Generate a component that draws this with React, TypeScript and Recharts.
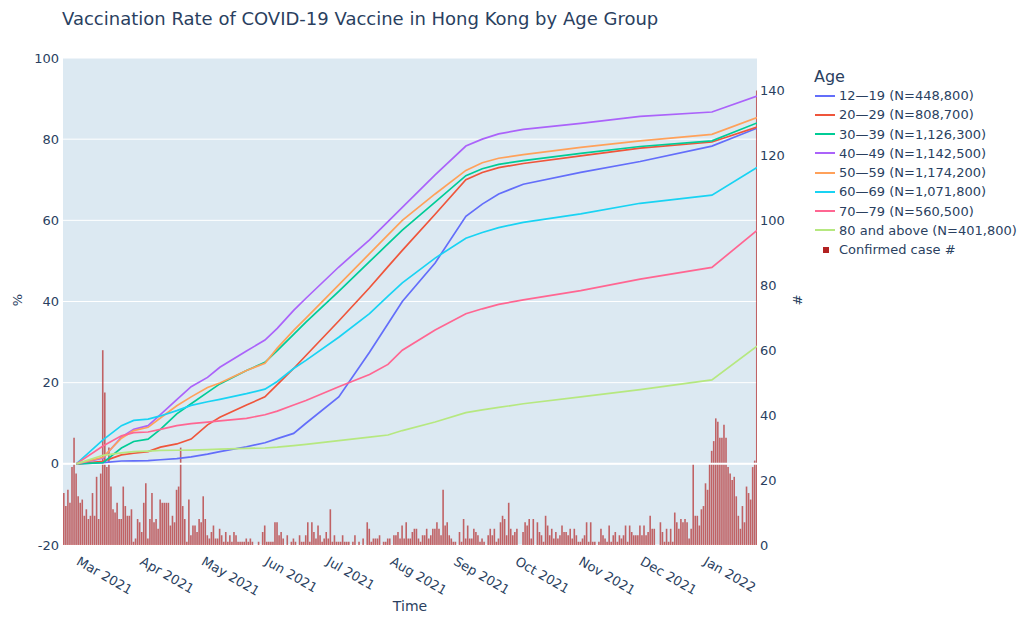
import { ComposedChart, Line, Bar, XAxis, YAxis, CartesianGrid, ReferenceLine } from "recharts";

const FONT = "Verdana, 'DejaVu Sans', sans-serif";
const TEXT = "#2a3f5f";

// day 0 = 2021-02-20, one bar per day
const casesFebToMay = [
  16, 12, 17, 13, 24, 33, 22, 15, 13, 14,
  9, 11, 8, 9, 16, 9, 21, 8, 22, 60,
  47, 24, 30, 18, 11, 10, 13, 8, 8, 18,
  12, 9, 9, 11, 1, 2, 8, 7, 4, 13,
  19, 2, 8, 16, 7, 8, 5, 14, 13, 13,
  13, 13, 6, 9, 7, 17, 18, 30, 12, 8,
  1, 14, 3, 6, 6, 4, 8, 7, 15, 8,
  3, 2, 4, 6, 2, 2, 5, 3, 1, 4,
  1, 3, 1, 4, 3, 1,
];
const casesMayToAug = [
  1, 1, 1, 2, 1, 2, 1, 0, 0, 1,
  0, 4, 6, 1, 1, 1, 1, 7, 7, 3,
  4, 2, 0, 3, 0, 1, 2, 1, 0, 3,
  1, 1, 3, 7, 1, 7, 4, 2, 6, 3,
  1, 2, 4, 2, 11, 1, 3, 1, 1, 1,
  3, 1, 1, 1, 0, 1, 3, 0, 1, 0,
  2, 0, 7, 5, 1, 2, 2, 2, 3, 0,
  1, 1, 2, 2, 0, 3, 3, 4, 2, 6,
  2, 7, 2, 2, 4, 5,
];
const casesAugToNov = [
  5, 2, 1, 3, 3, 5, 2, 3, 5, 5,
  7, 5, 3, 17, 6, 7, 3, 2, 1, 1,
  0, 4, 1, 8, 2, 6, 2, 2, 5, 4,
  3, 1, 2, 1, 0, 3, 5, 3, 5, 1,
  2, 7, 9, 8, 3, 13, 5, 3, 4, 5,
  0, 0, 4, 7, 6, 8, 2, 8, 0, 7,
  4, 3, 1, 9, 6, 3, 5, 2, 4, 2,
  3, 6, 4, 4, 3, 5, 2, 5, 3, 1,
  1, 2, 3, 7, 1, 7, 1, 1,
];
const casesNovToJan = [
  0, 1, 5, 3, 2, 1, 6, 1, 3, 4,
  1, 3, 2, 3, 6, 1, 6, 4, 3, 3,
  3, 6, 3, 6, 3, 4, 9, 5, 5, 0,
  0, 7, 4, 1, 5, 1, 5, 1, 10, 7,
  5, 8, 7, 8, 7, 2, 5, 25, 9, 9,
  6, 11, 12, 19, 17, 25, 29, 32, 39, 38,
  33, 33, 37, 33, 24, 22, 20, 21, 15, 9,
  5, 12, 7, 18, 16, 14, 24, 26, 140,
];

// vaccination rate (%) sampled on these days
const rateDays = [6, 19, 28, 34, 41, 47, 55, 62, 70, 76, 89, 98, 104, 112, 118, 134, 149, 158, 165, 181, 196, 204, 212, 224, 252, 281, 316, 338];
const age1219 = [0, 0.3, 0.7, 0.75, 0.8, 1.0, 1.3, 1.7, 2.4, 3, 4.2, 5.2, 6.2, 7.5, 10, 16.5, 27.5, 34.5, 40, 49.5, 61, 64, 66.5, 68.9, 71.8, 74.5, 78.3, 82.7];
const age2029 = [0, 0.6, 2.2, 2.6, 3.0, 4.1, 4.9, 6.1, 9.6, 11.5, 14.5, 16.5, 19.5, 23.5, 26.7, 35.2, 43.4, 48.6, 52.6, 61.5, 70, 71.8, 73, 74, 75.9, 77.8, 79.3, 83];
const age3039 = [0, 0.3, 3.9, 5.5, 6.1, 8.5, 12.3, 14.8, 17.6, 19.7, 23, 25, 27.9, 31.9, 34.9, 42.5, 49.8, 54.2, 57.6, 64.5, 71, 72.7, 73.8, 74.7, 76.5, 78.2, 79.6, 84];
const age4049 = [0, 1.4, 6.6, 8.5, 9.4, 12.1, 15.8, 19, 21.3, 23.8, 27.8, 30.5, 33.4, 37.8, 40.8, 48.5, 55.2, 59.7, 63.2, 71.2, 78.3, 80, 81.3, 82.4, 83.9, 85.6, 86.7, 90.6];
const age5059 = [0, 1.6, 6.3, 8.2, 9, 11.3, 14.3, 16.5, 18.8, 19.9, 23, 24.8, 28.5, 32.9, 35.9, 44.1, 51.8, 56.4, 60, 66.5, 72.3, 74.2, 75.3, 76.2, 78, 79.6, 81.2, 85.3];
const age6069 = [0, 5.9, 9.4, 10.7, 11.0, 11.8, 13.1, 14.4, 15.3, 15.9, 17.3, 18.4, 20.3, 23.5, 25.5, 31.2, 37, 41.3, 44.6, 50.7, 55.6, 57, 58.2, 59.5, 61.6, 64.2, 66.2, 73];
const age7079 = [0, 4.4, 6.9, 7.7, 7.85, 8.5, 9.4, 9.9, 10.3, 10.6, 11.2, 12.1, 13, 14.5, 15.6, 19, 22, 24.5, 28, 33, 37, 38.2, 39.3, 40.4, 42.7, 45.5, 48.4, 57.5];
const age80plus = [0, 2.1, 2.7, 3, 3.15, 3.3, 3.35, 3.4, 3.5, 3.6, 3.8, 3.9, 4.1, 4.5, 4.8, 5.7, 6.6, 7.1, 8.2, 10.3, 12.6, 13.3, 13.9, 14.8, 16.5, 18.3, 20.7, 29];

const monthTicks = [9, 40, 70, 101, 131, 162, 193, 223, 254, 284, 315];
const monthLabels = ["Mar 2021", "Apr 2021", "May 2021", "Jun 2021", "Jul 2021", "Aug 2021", "Sep 2021", "Oct 2021", "Nov 2021", "Dec 2021", "Jan 2022"];
const rateTicks = [-20, 0, 20, 40, 60, 80, 100];
const caseTicks = [0, 20, 40, 60, 80, 100, 120, 140];

const groups = [
  { key: "a1219", name: "12\u201419 (N=448,800)", color: "#636efa", values: age1219 },
  { key: "a2029", name: "20\u201429 (N=808,700)", color: "#ef553b", values: age2029 },
  { key: "a3039", name: "30\u201439 (N=1,126,300)", color: "#00cc96", values: age3039 },
  { key: "a4049", name: "40\u201449 (N=1,142,500)", color: "#ab63fa", values: age4049 },
  { key: "a5059", name: "50\u201459 (N=1,174,200)", color: "#ffa15a", values: age5059 },
  { key: "a6069", name: "60\u201469 (N=1,071,800)", color: "#19d3f3", values: age6069 },
  { key: "a7079", name: "70\u201479 (N=560,500)", color: "#ff6692", values: age7079 },
  { key: "a80", name: "80 and above (N=401,800)", color: "#b6e880", values: age80plus },
];

const allCases = [...casesFebToMay, ...casesMayToAug, ...casesAugToNov, ...casesNovToJan];
const caseData = allCases.map((c, i) => ({ day: i, cases: c }));
const rateData = rateDays.map((d, i) => {
  const row: Record<string, number> = { day: d };
  groups.forEach((g) => (row[g.key] = g.values[i]));
  return row;
});

function DateTick(props: any) {
  const { x, y, payload } = props;
  const label = monthLabels[monthTicks.indexOf(payload.value)];
  const tx = x - 7;
  const ty = y + 17;
  return (
    <text x={tx} y={ty} transform={`rotate(30 ${tx} ${ty})`} textAnchor="start" fill={TEXT} fontSize={13} fontFamily={FONT}>
      {label}
    </text>
  );
}

export default function App() {
  const tickStyle = { fill: TEXT, fontSize: 13, fontFamily: FONT };
  return (
    <div style={{ position: "relative", width: 1020, height: 609, fontFamily: FONT, color: TEXT }}>
      <div style={{ position: "absolute", left: 54, top: 2, fontSize: 18, lineHeight: "18px", whiteSpace: "nowrap" }}>
        Vaccination Rate of COVID-19 Vaccine in Hong Kong by Age Group
      </div>
      <ComposedChart width={1020} height={609} data={caseData} margin={{ top: 50, right: 221, bottom: 12, left: 0 }}>
        <CartesianGrid yAxisId="rate" vertical={false} stroke="#ffffff" fill="#dce9f2" />
        <XAxis
          type="number"
          dataKey="day"
          domain={[-0.5, 338]}
          allowDataOverflow
          ticks={monthTicks}
          interval={0}
          tick={<DateTick />}
          axisLine={false}
          tickLine={false}
          tickSize={0}
          height={60}
        />
        <YAxis yAxisId="rate" orientation="left" domain={[-20, 100]} ticks={rateTicks} width={55} axisLine={false} tickLine={false} tickSize={0} tickMargin={4} tick={tickStyle} />
        <YAxis yAxisId="cases" orientation="right" domain={[0, 150]} ticks={caseTicks} width={50} axisLine={false} tickLine={false} tickSize={0} tickMargin={3} tick={tickStyle} />
        <ReferenceLine yAxisId="rate" y={0} stroke="#ffffff" strokeWidth={2} />
        {groups.map((g) => (
          <Line
            key={g.key}
            yAxisId="rate"
            data={rateData}
            dataKey={g.key}
            type="linear"
            stroke={g.color}
            strokeWidth={1.7}
            dot={false}
            isAnimationActive={false}
          />
        ))}
        <Bar yAxisId="cases" dataKey="cases" fill="#b22222" fillOpacity={0.68} barSize={1.6} isAnimationActive={false} />
      </ComposedChart>

      <div style={{ position: "absolute", left: 9, top: 292, transform: "translate(-50%, -50%) rotate(-90deg)", fontSize: 13 }}>%</div>
      <div style={{ position: "absolute", left: 789, top: 292, transform: "translate(-50%, -50%) rotate(-90deg)", fontSize: 13 }}>#</div>
      <div style={{ position: "absolute", left: 402, top: 598, transform: "translate(-50%, -50%)", fontSize: 14 }}>Time</div>

      <div style={{ position: "absolute", left: 806, top: 60, fontSize: 16, lineHeight: "18px" }}>Age</div>
      {groups.map((g, k) => (
        <div key={g.key} style={{ position: "absolute", left: 807, top: 78 + k * 19.25, height: 19, display: "flex", alignItems: "center", whiteSpace: "nowrap", fontSize: 13 }}>
          <div style={{ width: 20, height: 2, background: g.color, marginRight: 4 }} />
          {g.name}
        </div>
      ))}
      <div style={{ position: "absolute", left: 807, top: 78 + 8 * 19.25, height: 19, display: "flex", alignItems: "center", whiteSpace: "nowrap", fontSize: 13 }}>
        <div style={{ width: 6, height: 6, background: "#b22222", marginLeft: 8, marginRight: 10 }} />
        Confirmed case #
      </div>
    </div>
  );
}
